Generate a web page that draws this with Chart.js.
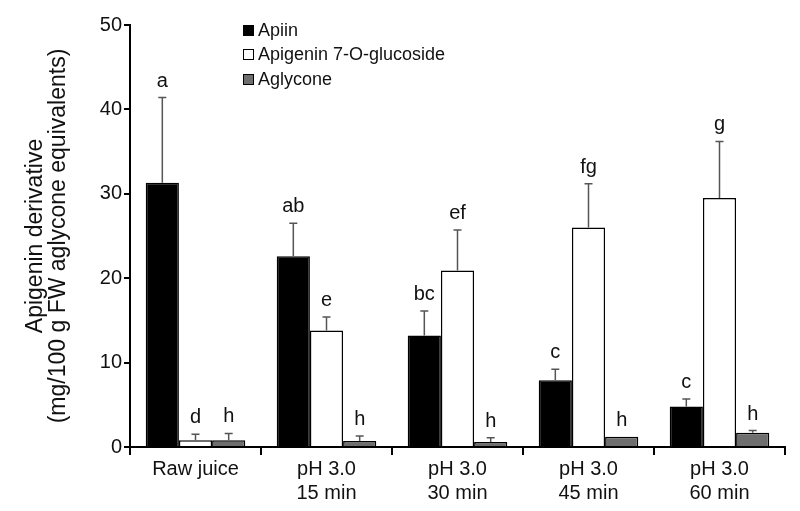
<!DOCTYPE html>
<html>
<head>
<meta charset="utf-8">
<script src="https://cdn.jsdelivr.net/npm/chart.js"></script>
<style>
  html, body { margin: 0; padding: 0; background: #fff; }
  #chart { display: block; }
</style>
</head>
<body>
<canvas id="chart" width="800" height="511"></canvas>
<script>
// apigenin derivatives in juice — grouped bars with upper error bars + letters

const categories = [["Raw juice"], ["pH 3.0", "15 min"], ["pH 3.0", "30 min"], ["pH 3.0", "45 min"], ["pH 3.0", "60 min"]];
const seriesNames = ["Apiin", "Apigenin 7-O-glucoside", "Aglycone"];

const apiin = [31.3, 22.6, 13.2, 7.9, 4.8];
const apiinErr = [10.1, 3.9, 2.9, 1.3, 0.9];
const apiinLetters = ["a", "ab", "bc", "c", "c"];

const glucoside = [0.8, 13.8, 20.9, 26.0, 29.5];
const glucosideErr = [0.7, 1.6, 4.8, 5.2, 6.7];
const glucosideLetters = ["d", "e", "ef", "fg", "g"];

const aglycone = [0.8, 0.7, 0.6, 1.2, 1.7];
const aglyconeErr = [0.8, 0.6, 0.5, 0, 0.25];
const aglyconeLetters = ["h", "h", "h", "h", "h"];

const yTicks = [0, 10, 20, 30, 40, 50];

const FONT = "'Liberation Sans', Arial, sans-serif";
const GREY = "#6e6e6e";
const INK = "#111";

const errors = [apiinErr, glucosideErr, aglyconeErr];
const letters = [apiinLetters, glucosideLetters, aglyconeLetters];

/* error bars and significance letters */
const errorBarPlugin = {
  id: "errorBars",
  afterDatasetsDraw(chart) {
    const ctx = chart.ctx;
    const y = chart.scales.y;
    ctx.save();
    chart.data.datasets.forEach((ds, i) => {
      const meta = chart.getDatasetMeta(i);
      meta.data.forEach((bar, j) => {
        const top = y.getPixelForValue(ds.data[j] + errors[i][j]);
        if (errors[i][j] > 0) {
          ctx.strokeStyle = "#555";
          ctx.lineWidth = 1.5;
          ctx.beginPath();
          ctx.moveTo(bar.x, bar.y);
          ctx.lineTo(bar.x, top);
          ctx.moveTo(bar.x - 4, top);
          ctx.lineTo(bar.x + 4, top);
          ctx.stroke();
        }
        ctx.fillStyle = INK;
        ctx.font = "20px " + FONT;
        ctx.textAlign = "center";
        ctx.textBaseline = "alphabetic";
        ctx.fillText(letters[i][j], bar.x, top - 11);
      });
    });
    ctx.restore();
  }
};

/* legend, stacked top-left inside the plot */
const legendPlugin = {
  id: "boxLegend",
  afterDraw(chart) {
    const ctx = chart.ctx;
    const rows = [30, 54, 79];
    ctx.save();
    ctx.font = "18px " + FONT;
    ctx.textBaseline = "middle";
    ctx.textAlign = "left";
    chart.data.datasets.forEach((ds, i) => {
      const cy = rows[i];
      ctx.fillStyle = ds.backgroundColor;
      ctx.fillRect(243, cy - 5, 11, 11);
      ctx.strokeStyle = "#000";
      ctx.lineWidth = 1;
      ctx.strokeRect(243.5, cy - 4.5, 10, 10);
      ctx.fillStyle = INK;
      ctx.fillText(ds.label, 258, cy + 1);
    });
    ctx.restore();
  }
};

new Chart(document.getElementById("chart"), {
  type: "bar",
  data: {
    labels: categories,
    datasets: [
      { label: seriesNames[0], data: apiin, backgroundColor: "#000", borderColor: "#000", borderWidth: 1.5 },
      { label: seriesNames[1], data: glucoside, backgroundColor: "#fff", borderColor: "#000", borderWidth: 1.5 },
      { label: seriesNames[2], data: aglycone, backgroundColor: GREY, borderColor: "#000", borderWidth: 1.5 }
    ]
  },
  options: {
    responsive: false,
    animation: false,
    events: [],
    layout: { padding: { left: 0, right: 15, top: 25, bottom: 0 } },
    datasets: {
      bar: { categoryPercentage: 0.76, barPercentage: 1.0, borderSkipped: "bottom" }
    },
    plugins: {
      legend: { display: false },
      tooltip: { enabled: false }
    },
    scales: {
      x: {
        grid: { offset: true, drawOnChartArea: false, tickLength: 8, color: "#000", lineWidth: 2 },
        border: { color: "#000", width: 2 },
        ticks: { color: INK, font: { family: FONT, size: 20 }, padding: 2, maxRotation: 0 },
        afterFit(scale) { scale.height = 64; }
      },
      y: {
        min: 0,
        max: 50,
        afterBuildTicks(scale) { scale.ticks = yTicks.map(v => ({ value: v })); },
        grid: { drawOnChartArea: false, tickLength: 6, color: "#000", lineWidth: 2 },
        border: { color: "#000", width: 2 },
        ticks: { color: INK, font: { family: FONT, size: 20 }, padding: 2 },
        title: {
          display: true,
          text: ["Apigenin derivative", "(mg/100 g FW aglycone equivalents)"],
          color: INK,
          font: { family: FONT, size: 23, lineHeight: 1.0 },
          padding: { top: 24, bottom: 0 }
        },
        afterFit(scale) { scale.width = 130; }
      }
    }
  },
  plugins: [errorBarPlugin, legendPlugin]
});
</script>
</body>
</html>
